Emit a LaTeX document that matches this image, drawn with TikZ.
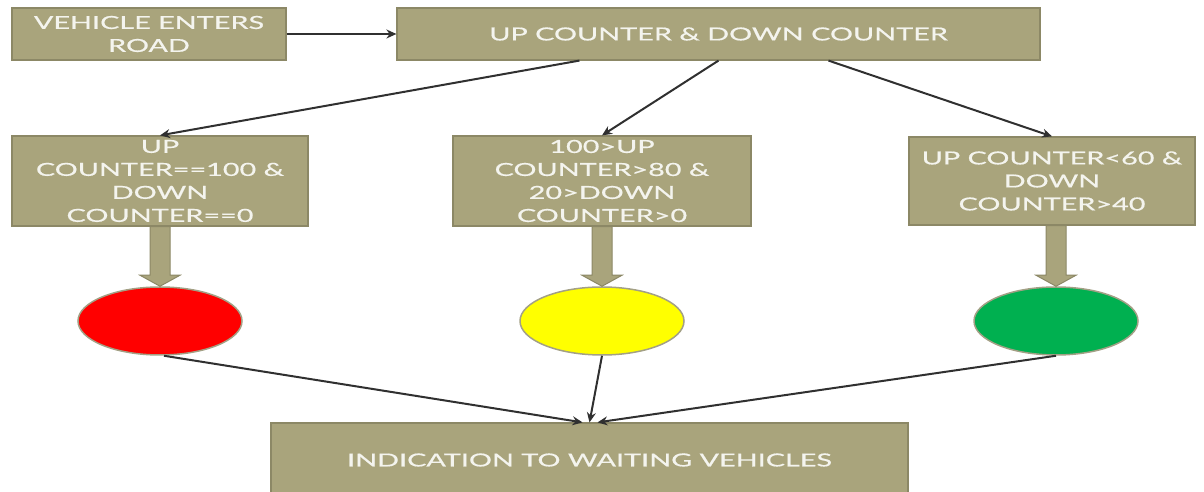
\documentclass[tikz,border=0pt]{standalone}
\usepackage{fontspec}
\setmainfont[FakeStretch=1.6,FakeBold=0.6]{Lato}
\usetikzlibrary{shapes.geometric,arrows.meta,calc}
\definecolor{olive}{HTML}{A9A47C}
\definecolor{olivedark}{HTML}{8C8866}
\definecolor{txt}{HTML}{F4F4EE}
\definecolor{arrowc}{HTML}{303030}
\definecolor{lred}{HTML}{FF0000}
\definecolor{lyellow}{HTML}{FFFF00}
\definecolor{lgreen}{HTML}{00B050}
\tikzset{
  box/.style={draw=olivedark,line width=1.2pt,fill=olive,text=txt,align=center,inner sep=2pt,
    font=\fontsize{18}{23}\selectfont},
  lamp/.style={ellipse,draw=olivedark!80,line width=1.5pt,minimum width=164pt,minimum height=68pt,inner sep=0pt},
  conn/.style={draw=arrowc,line width=2pt,-{Stealth[length=10pt,width=9pt]}},
  blockarrow/.style={draw=olivedark,line width=1pt,fill=olive},
}
\newcommand\blockarr[2]{%
  \path[blockarrow] ($(#2.north |- #1.south)+(-10,0)$) -- ($(#2.north)+(-10,11)$) -- ($(#2.north)+(-20,11)$) -- (#2.north) -- ($(#2.north)+(20,11)$) -- ($(#2.north)+(10,11)$) -- ($(#2.north |- #1.south)+(10,0)$) -- cycle;}
\begin{document}
\begin{tikzpicture}[x=1pt,y=1pt]
\useasboundingbox (0,0) rectangle (1204,492);
\node[box,minimum width=274pt,minimum height=52pt] (b1) at (149,458) {VEHICLE ENTERS\\ROAD};
\node[box,minimum width=643pt,minimum height=52pt] (b2) at (718.5,458) {UP COUNTER \& DOWN COUNTER};
\node[box,minimum width=296pt,minimum height=90pt] (b3) at (160,311) {UP\\COUNTER==100 \&\\DOWN\\COUNTER==0};
\node[box,minimum width=298pt,minimum height=90pt] (b4) at (602,311) {100>UP\\COUNTER>80 \&\\20>DOWN\\COUNTER>0};
\node[box,minimum width=286pt,minimum height=88pt] (b5) at (1052,311) {UP COUNTER<60 \&\\DOWN\\COUNTER>40};
\node[lamp,fill=lred] (e1) at (160,171) {};
\node[lamp,fill=lyellow] (e2) at (602,171) {};
\node[lamp,fill=lgreen] (e3) at (1056,171) {};
\node[box,minimum width=637pt,minimum height=74pt] (b6) at (589.5,32) {INDICATION TO WAITING VEHICLES};
\blockarr{b3}{e1}
\blockarr{b4}{e2}
\blockarr{b5}{e3}
\draw[conn] (b1.east) -- (b2.west);
\draw[conn] ($(b2.south west)+(183,0)$) -- (b3.north);
\draw[conn] (b2.south) -- (b4.north);
\draw[conn] ($(b2.south)+(110,0)$) -- (b5.north);
\draw[conn] ($(e1.south)+(4,0)$) -- ($(b6.north)+(-7,0)$);
\draw[conn] (e2.south) -- (b6.north);
\draw[conn] (e3.south) -- ($(b6.north)+(8,0)$);
\end{tikzpicture}
\end{document}
